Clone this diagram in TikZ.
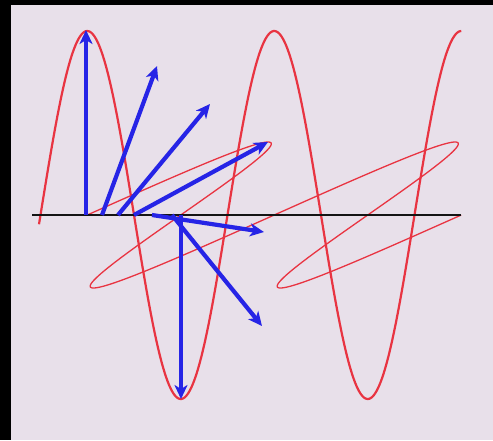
\documentclass[tikz,border=0pt]{standalone}
\usepackage{xcolor}
\usepackage{tikz}
\usetikzlibrary{arrows.meta}
\definecolor{board}{RGB}{232,224,234}
\definecolor{wavered}{RGB}{232,52,66}
\definecolor{vecblue}{RGB}{38,36,230}
\tikzset{
  wave/.style={draw=wavered, line width=2.2pt},
  tilt/.style={draw=wavered, line width=1.3pt},
  axisline/.style={draw=black!92, line width=2.8pt},
  evec/.style={draw=vecblue, line width=4.2pt, -{Stealth[length=14pt,width=13pt,inset=4pt]}}
}

\begin{document}
\begin{tikzpicture}[x=1pt, y=-1pt]
    % frame and screen
    \fill[black] (0,0) rectangle (493,440);
    \fill[board] (11,5) rectangle (493,440);
    \useasboundingbox (0,0) rectangle (493,440);

    % vertical component
    \draw[wave] plot[domain=39:461.25, samples=300] (\x, {215-184*sin(1.92513*(\x-40.5))});
    % horizontal component, seen at a slant
    \draw[tilt] plot[variable=\t, domain=87.25:461.25, samples=400]
      ({\t-134*cos(1.92513*(\t-40.5))}, {215+73*cos(1.92513*(\t-40.5))});

    % axis
    \coordinate (west) at (32,215);
    \coordinate (east) at (461,215);
    \draw[axisline] (west) -- (east);

    % field vectors
    \coordinate (a1) at (86,215);  \coordinate (e1) at (86,30);
    \coordinate (a2) at (102,215); \coordinate (e2) at (157,66);
    \coordinate (a3) at (118,215); \coordinate (e3) at (210,104);
    \coordinate (a4) at (134,215); \coordinate (e4) at (268,142);
    \coordinate (a5) at (152,215); \coordinate (e5) at (264,232);
    \coordinate (a6) at (172,215); \coordinate (e6) at (262,326);
    \coordinate (a7) at (181,215); \coordinate (e7) at (181,399);
    \draw[evec] (a1) -- (e1);
    \draw[evec] (a2) -- (e2);
    \draw[evec] (a3) -- (e3);
    \draw[evec] (a4) -- (e4);
    \draw[evec] (a5) -- (e5);
    \draw[evec] (a6) -- (e6);
    \draw[evec] (a7) -- (e7);
  \end{tikzpicture}
\end{document}
